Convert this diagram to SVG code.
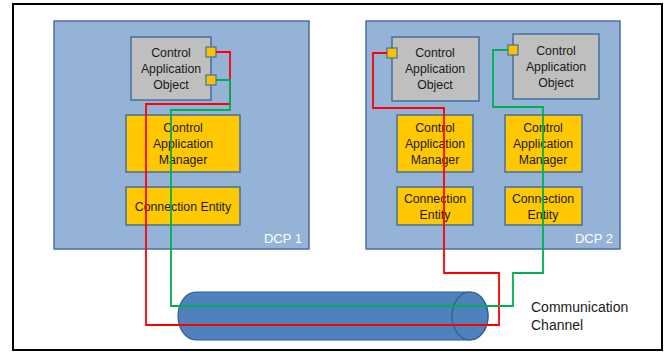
<svg xmlns="http://www.w3.org/2000/svg" width="667" height="352" viewBox="0 0 667 352">
  <style>
    .frame { fill: #ffffff; stroke: #000000; stroke-width: 2; }
    .dcp { fill: #95B3D7; stroke: #4A6FA0; stroke-width: 1.5; }
    .cao { fill: #BFBFBF; stroke: #41719C; stroke-width: 1.5; }
    .mgr { fill: #FFC800; stroke: #41719C; stroke-width: 1.5; }
    .port { fill: #FFC000; stroke: #41719C; stroke-width: 1.2; }
    .pipe { fill: #4F81BD; stroke: #385D8A; stroke-width: 1.2; }
    .lbl { font-family: "Liberation Sans", Arial, sans-serif; font-size: 12.3px; fill: #1a1a1a; text-anchor: middle; dominant-baseline: central; }
    .dcplbl { font-family: "Liberation Sans", Arial, sans-serif; font-size: 13px; fill: #ffffff; text-anchor: end; }
    .chan { font-family: "Liberation Sans", Arial, sans-serif; font-size: 14px; fill: #1a1a1a; dominant-baseline: central; }
    .wire { fill: none; stroke-width: 1.8; stroke-linejoin: miter; }
    .red { stroke: #FF0000; }
    .green { stroke: #00B050; }
  </style>

  <!-- outer frame -->
  <rect class="frame" x="13" y="4" width="649" height="346"/>

  <!-- DCP 1 -->
  <g id="dcp1">
    <rect class="dcp" x="54" y="21" width="255" height="228"/>
    <text class="dcplbl" x="302" y="243">DCP 1</text>
  </g>
  <g id="cao1">
    <rect class="cao" x="131" y="37" width="80" height="63"/>
    <text class="lbl" x="171" y="53">Control</text>
    <text class="lbl" x="171" y="69">Application</text>
    <text class="lbl" x="171" y="85">Object</text>
    <rect class="port" x="206" y="47" width="10" height="10"/>
    <rect class="port" x="206" y="75" width="10" height="10"/>
  </g>
  <g id="cam1">
    <rect class="mgr" x="126" y="115" width="114" height="57"/>
    <text class="lbl" x="183" y="128">Control</text>
    <text class="lbl" x="183" y="144">Application</text>
    <text class="lbl" x="183" y="160">Manager</text>
  </g>
  <g id="ce1">
    <rect class="mgr" x="126" y="187" width="114" height="38"/>
    <text class="lbl" x="183" y="207">Connection Entity</text>
  </g>

  <!-- DCP 2 -->
  <g id="dcp2">
    <rect class="dcp" x="366" y="21" width="254" height="228"/>
    <text class="dcplbl" x="613" y="243">DCP 2</text>
  </g>
  <g id="cao2a">
    <rect class="cao" x="392" y="37" width="87" height="64"/>
    <text class="lbl" x="435" y="53">Control</text>
    <text class="lbl" x="435" y="69">Application</text>
    <text class="lbl" x="435" y="85">Object</text>
    <rect class="port" x="387" y="48" width="10" height="10"/>
  </g>
  <g id="cao2b">
    <rect class="cao" x="513" y="34" width="86" height="65"/>
    <text class="lbl" x="556" y="51">Control</text>
    <text class="lbl" x="556" y="67">Application</text>
    <text class="lbl" x="556" y="83">Object</text>
    <rect class="port" x="508" y="45" width="10" height="10"/>
  </g>
  <g id="cam2a">
    <rect class="mgr" x="397" y="115" width="76" height="57"/>
    <text class="lbl" x="435" y="128">Control</text>
    <text class="lbl" x="435" y="144">Application</text>
    <text class="lbl" x="435" y="160">Manager</text>
  </g>
  <g id="cam2b">
    <rect class="mgr" x="505" y="115" width="77" height="57"/>
    <text class="lbl" x="543" y="128">Control</text>
    <text class="lbl" x="543" y="144">Application</text>
    <text class="lbl" x="543" y="160">Manager</text>
  </g>
  <g id="ce2a">
    <rect class="mgr" x="397" y="187" width="76" height="38"/>
    <text class="lbl" x="435" y="199">Connection</text>
    <text class="lbl" x="435" y="215">Entity</text>
  </g>
  <g id="ce2b">
    <rect class="mgr" x="505" y="187" width="77" height="38"/>
    <text class="lbl" x="543" y="199">Connection</text>
    <text class="lbl" x="543" y="215">Entity</text>
  </g>

  <!-- communication channel (cylinder lying on its side) -->
  <g id="channel">
    <path class="pipe" d="M196,292 L470,292 A18,24 0 0 1 470,340 L196,340 A18,24 0 0 1 196,292 Z"/>
    <ellipse class="pipe" cx="470" cy="316" rx="18" ry="24"/>
    <text class="chan" x="531" y="307">Communication</text>
    <text class="chan" x="531" y="325">Channel</text>
  </g>

  <!-- connectors -->
  <g id="connectors">
    <polyline class="wire red" points="216,52 230,52 230,104 146,104 146,325 499,325 499,273 444,273 444,108 373,108 373,53 387,53"/>
    <polyline class="wire green" points="216,80 230,80 230,110 171,110 171,306 513,306 513,273 543,273 543,107 493,107 493,50 508,50"/>
  </g>
</svg>
